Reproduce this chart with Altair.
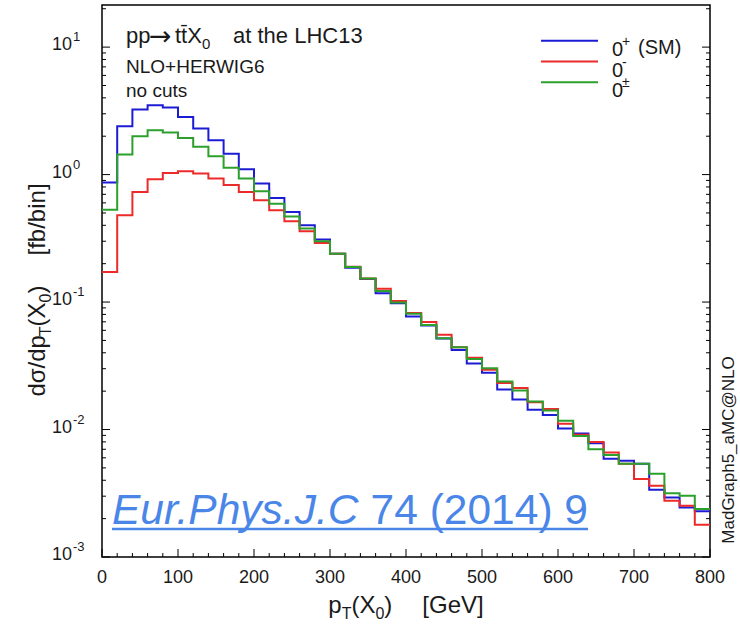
import altair as alt
import pandas as pd

# ---------------- data ----------------
bin_edges = list(range(0, 820, 20))  # 0..800, 20 GeV bins
sm_vals = [0.865, 2.39, 3.24, 3.50, 3.36, 2.83, 2.30, 1.86, 1.46, 1.10,
           0.85, 0.655, 0.508, 0.40, 0.31, 0.239, 0.186, 0.152, 0.117, 0.098,
           0.077, 0.0655, 0.0517, 0.042, 0.033, 0.0279, 0.0206, 0.0172, 0.0143, 0.0130,
           0.0102, 0.0093, 0.0078, 0.0059, 0.0057, 0.0054, 0.00337, 0.00293, 0.00245, 0.00228]
odd_vals = [0.172, 0.479, 0.73, 0.92, 1.03, 1.06, 1.02, 0.93, 0.83, 0.73,
            0.63, 0.525, 0.43, 0.359, 0.29, 0.239, 0.189, 0.153, 0.127, 0.102,
            0.0821, 0.0697, 0.0553, 0.0443, 0.0365, 0.0294, 0.0232, 0.0212, 0.0164, 0.0145,
            0.0111, 0.0091, 0.0080, 0.0066, 0.0054, 0.0041, 0.00363, 0.00276, 0.00252, 0.00179]
mix_vals = [0.53, 1.44, 2.0, 2.23, 2.14, 1.94, 1.65, 1.39, 1.13, 0.93,
            0.74, 0.59, 0.47, 0.377, 0.30, 0.239, 0.188, 0.153, 0.122, 0.099,
            0.081, 0.066, 0.052, 0.0443, 0.0358, 0.0303, 0.0238, 0.0202, 0.0166, 0.0141,
            0.0117, 0.0089, 0.0070, 0.0063, 0.0054, 0.0054, 0.0045, 0.00316, 0.00303, 0.00238]
series_names = ["0+ (SM)", "0-", "0±"]
series_colors = ["#1c1cd4", "#ec2a2a", "#2ca02c"]
legend_sups = ["+", "-", "±"]

x_major = [0, 100, 200, 300, 400, 500, 600, 700, 800]
y_major = [1e-3, 1e-2, 1e-1, 1.0, 10.0]
y_exps = ["-3", "-2", "-1", "0", "1"]

# ---------------- layout ----------------
OX, OY = 102, 5          # plot origin in page pixels
W, H = 608, 552          # plot area
FONT = "Liberation Sans"
TXT = "#1a1a1a"

xs = alt.Scale(domain=[0, 800], nice=False, zero=False)
ys = alt.Scale(type="log", domain=[1e-3, 21.4], nice=False)

CW = {'p': .556, 'T': .611, '(': .333, 'X': .667, '0': .556, ')': .333, '[': .278,
      'G': .778, 'e': .556, 'V': .667, ']': .278, 'd': .556, 'σ': .571, '/': .278,
      'f': .278, 'b': .556, 'i': .222, 'n': .556, ' ': .278}


def tw(s, size):
    return sum(CW.get(c, .556) for c in s) * size


def txt(text, ax, ay, size, align="left", baseline="alphabetic", angle=0,
        italic=False, color=TXT, font=FONT):
    kw = dict(font=font, fontSize=size, align=align, baseline=baseline, color=color)
    if angle:
        kw["angle"] = angle
    if italic:
        kw["fontStyle"] = "italic"
    return alt.Chart(pd.DataFrame({"t": [text]})).mark_text(**kw).encode(
        x=alt.value(ax - OX), y=alt.value(ay - OY), text="t:N")


def seq(pieces, x0, y0, horizontal=True):
    out, pos = [], 0.0
    for text, size, shift, gap in pieces:
        pos += gap
        if horizontal:
            out.append(txt(text, x0 + pos, y0 + shift, size))
        else:
            out.append(txt(text, x0 + shift, y0 - pos, size, angle=270))
        pos += tw(text, size)
    return out


layers = []

# histogram lines (blue, red, green on top)
for name, vals, col in zip(series_names, [sm_vals, odd_vals, mix_vals], series_colors):
    d = pd.DataFrame({"pt": bin_edges, "val": vals + [vals[-1]], "series": name})
    layers.append(alt.Chart(d).mark_line(interpolate="step-after", strokeWidth=2, color=col).encode(
        x=alt.X("pt:Q", scale=xs, axis=None),
        y=alt.Y("val:Q", scale=ys, axis=None)))

# ticks (inward)
xmaj_df = pd.DataFrame({"v": x_major, "lab": [str(v) for v in x_major]})
xmin_df = pd.DataFrame({"v": [v for v in range(20, 800, 20) if v % 100]})
ymaj_df = pd.DataFrame({"v": y_major, "e": y_exps})
ymin_df = pd.DataFrame({"v": [k * 10.0 ** n for n in range(-3, 2) for k in range(2, 10)
                              if k * 10.0 ** n <= 21.4]})

layers.append(alt.Chart(xmaj_df).mark_rule(color="black", strokeWidth=1).encode(
    x=alt.X("v:Q", scale=xs, axis=None), y=alt.value(H), y2=alt.value(H - 8)))
layers.append(alt.Chart(xmin_df).mark_rule(color="black", strokeWidth=1).encode(
    x=alt.X("v:Q", scale=xs, axis=None), y=alt.value(H), y2=alt.value(H - 4)))
for x0, d8, d4 in [(0, 8, 4), (W, W - 8, W - 4)]:
    layers.append(alt.Chart(ymaj_df).mark_rule(color="black", strokeWidth=1).encode(
        y=alt.Y("v:Q", scale=ys, axis=None), x=alt.value(x0), x2=alt.value(d8)))
    layers.append(alt.Chart(ymin_df).mark_rule(color="black", strokeWidth=1).encode(
        y=alt.Y("v:Q", scale=ys, axis=None), x=alt.value(x0), x2=alt.value(d4)))

# tick labels
layers.append(alt.Chart(xmaj_df).mark_text(font=FONT, fontSize=18, baseline="middle", color=TXT).encode(
    x=alt.X("v:Q", scale=xs, axis=None), y=alt.value(H + 21), text="lab:N"))
layers.append(alt.Chart(ymaj_df).mark_text(font=FONT, fontSize=18, align="right", baseline="middle",
                                           dy=-2, color=TXT).encode(
    y=alt.Y("v:Q", scale=ys, axis=None), x=alt.value(-30), text=alt.value("10")))
layers.append(alt.Chart(ymaj_df).mark_text(font=FONT, fontSize=13, align="left", baseline="middle",
                                           dy=-10, color=TXT).encode(
    y=alt.Y("v:Q", scale=ys, axis=None), x=alt.value(-29), text="e:N"))

# x axis title
xt = [("p", 24, 0, 0), ("T", 16, 6, 0), ("(X", 24, 0, 0), ("0", 16, 6, 0), (")", 24, 0, 0),
      ("[GeV]", 24, 0, 30)]
xt_len = sum(tw(t, s) + g for t, s, _, g in xt)
layers += seq(xt, 406 - xt_len / 2, 613)

# y axis title (rotated)
yt = [("dσ/dp", 24, 0, 0), ("T", 16, 6, 0), ("(X", 24, 0, 0), ("0", 16, 6, 0), (")", 24, 0, 0),
      ("[fb/bin]", 24, 0, 30)]
yt_len = sum(tw(t, s) + g for t, s, _, g in yt)
layers += seq(yt, 45, 290 + yt_len / 2, horizontal=False)

# top-left annotation
layers.append(txt("pp", 126, 43, 22))
layers.append(txt("→", 149, 45, 27, font="DejaVu Sans"))
layers.append(txt("tt̄X", 175, 43, 22))
layers.append(txt("0", 202, 49, 15))
layers.append(txt("at the LHC13", 233, 43, 22))
layers.append(txt("NLO+HERWIG6", 126, 73, 19))
layers.append(txt("no cuts", 126, 97, 19))

# legend
for i, (col, sup) in enumerate(zip(series_colors, legend_sups)):
    ly = 40.7 + i * 20.8
    layers.append(alt.Chart(pd.DataFrame({"a": [0]})).mark_rule(color=col, strokeWidth=2).encode(
        x=alt.value(541 - OX), x2=alt.value(598 - OX), y=alt.value(ly - OY)))
    layers.append(txt("0", 612, ly + 15, 20))
    layers.append(txt(sup, 622, ly + 5, 14))
    if i == 0:
        layers.append(txt("(SM)", 638, ly + 13, 20))

# generator label
layers.append(txt("MadGraph5_aMC@NLO", 729, 450, 17, align="center", baseline="middle", angle=270))

# citation
LINK = "#4a86e8"
layers.append(txt("Eur.Phys.J.C", 112, 524, 42.5, italic=True, color=LINK))
layers.append(txt("74 (2014) 9", 588, 524, 42.5, align="right", color=LINK))
layers.append(alt.Chart(pd.DataFrame({"a": [0]})).mark_rule(color=LINK, strokeWidth=2.5).encode(
    x=alt.value(112 - OX), x2=alt.value(588 - OX), y=alt.value(529 - OY)))

chart = alt.layer(*layers).properties(
    width=W, height=H,
    autosize=alt.AutoSizeParams(type="none"),
    padding={"left": OX, "top": OY, "right": 740 - OX - W, "bottom": 625 - OY - H},
).configure_view(stroke="black", strokeWidth=1.5)

chart.save("out.html", embed_options={"renderer": "svg", "actions": False})
